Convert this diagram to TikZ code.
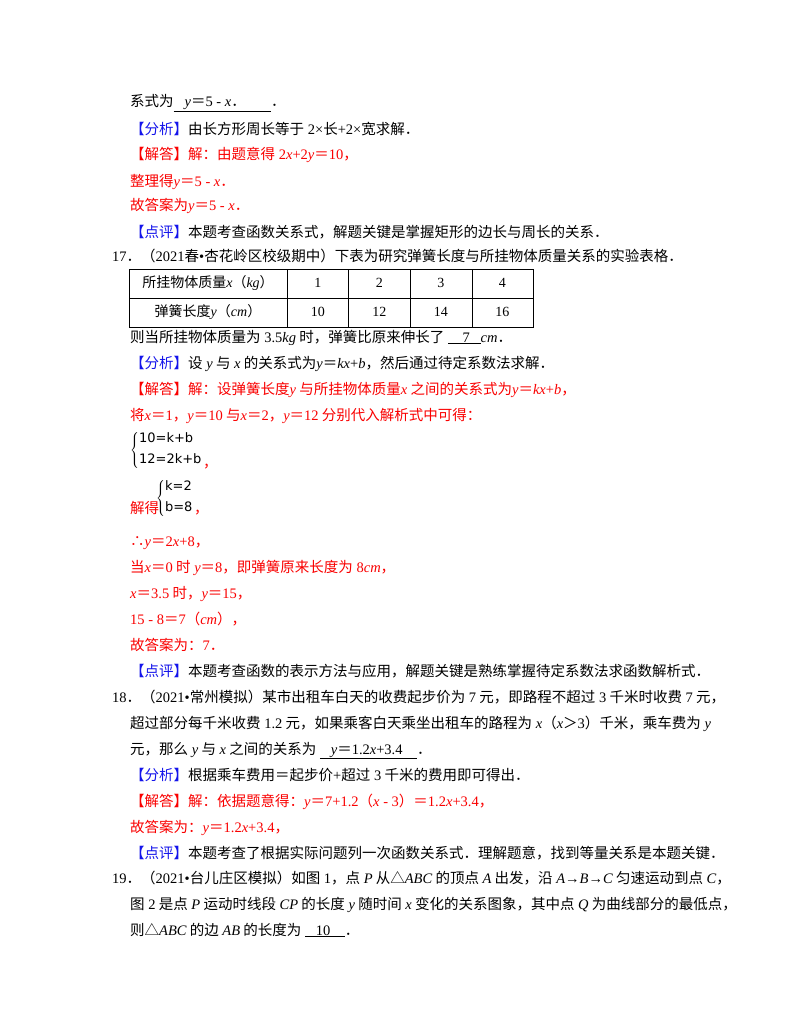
\documentclass[tikz,border=0pt]{standalone}
\usepackage{fontspec}
\setmainfont{Noto Sans CJK SC}
\newfontfamily\tm{Liberation Serif}
\newfontfamily\djvu{DejaVu Sans}
\newcommand\m[1]{{\tm #1}}
\newcommand\vi[1]{{\tm\itshape #1}}
\newcommand\ul[1]{\underline{\hbox{#1}}}
\newcommand\E{{\normalfont ＝}}
\newcommand\D{{\normalfont ．}}
\newcommand\G{{\normalfont ＞}}
\definecolor{tblue}{RGB}{20,20,235}
\definecolor{tred}{RGB}{250,0,0}
\newcommand\btag[1]{{\color{tblue}【#1】}}
\tikzset{txt/.style={anchor=base west,inner sep=0pt,font=\fontsize{14.5}{16}\selectfont},
 red/.style={txt,text=tred},
 cell/.style={inner sep=0pt,font=\fontsize{14}{16}\selectfont}}
\begin{document}
\begin{tikzpicture}[x=1pt,y=-1pt]
\useasboundingbox[fill=white] (0,0) rectangle (800,1035);
\node[txt] (a1) at (130,107) {系式为\ul{\m{\ \ \ }\vi{y}\E\m{5 - }\vi{x}\D\m{\ \ \ \ \ \ \ }}\D};
\node[txt] (a2) at (130,135) {\btag{分析}由长方形周长等于\m{ 2×}长\m{+2×}宽求解\D};
\node[red] (a3) at (130,160) {【解答】解：由题意得\m{ 2}\vi{x}\m{+2}\vi{y}\E\m{10}，};
\node[red] (a4) at (130,186) {整理得\vi{y}\E\m{5 - }\vi{x}\D};
\node[red] (a5) at (130,211) {故答案为\vi{y}\E\m{5 - }\vi{x}\D};
\node[txt] (a6) at (130,237) {\btag{点评}本题考查函数关系式，解题关键是掌握矩形的边长与周长的关系\D};
\node[txt] (q17) at (112,261) {\m{17}\D（\m{2021}春\m{•}杏花岭区校级期中）下表为研究弹簧长度与所挂物体质量关系的实验表格\D};
% table
\draw[line width=0.9pt] (129,269) rectangle (533,327);
\draw[line width=0.9pt] (129,298) -- (533,298);
\foreach \xx in {287,348,410,472} \draw[line width=0.9pt] (\xx,269) -- (\xx,327);
\node[cell] (t0) at (208,283) {所挂物体质量\vi{x}（\vi{kg}）};
\node[cell] (t1) at (208,312) {弹簧长度\vi{y}（\vi{cm}）};
\foreach \v/\a/\b in {1/1/10,2/2/12,3/3/14,4/4/16}{
 \node[cell] (c\v) at ({287+(\v-0.5)*61.5},283) {\m{\a}};
 \node[cell] (d\v) at ({287+(\v-0.5)*61.5},312) {\m{\b}};}
\node[txt] (b1) at (130,342) {则当所挂物体质量为\m{ 3.5}\vi{kg} 时，弹簧比原来伸长了\m{ }\ul{\m{\ \ \ \ 7\ \ \ }}\vi{cm}\D};
\node[txt] (b2) at (130,368) {\btag{分析}设\vi{ y} 与\vi{ x} 的关系式为\vi{y}\E\vi{kx}\m{+}\vi{b}，然后通过待定系数法求解\D};
\node[red] (b3) at (130,394) {【解答】解：设弹簧长度\vi{y} 与所挂物体质量\vi{x} 之间的关系式为\vi{y}\E\vi{kx}\m{+}\vi{b}，};
\node[red] (b4) at (130,420) {将\vi{x}\E\m{1}，\vi{y}\E\m{10} 与\vi{x}\E\m{2}，\vi{y}\E\m{12} 分别代入解析式中可得：};
\node[anchor=west,inner sep=0pt,font=\djvu\fontsize{13}{16}\selectfont] (s1) at (130,450)
 {$\left\{\vcenter{\hbox{\begin{tabular}{@{}l@{}}10=k+b\\[5pt]12=2k+b\end{tabular}}}\right.$};
\node[red,anchor=base west] (s1c) at (s1.east |- 0,467) {，};
\node[anchor=west,inner sep=0pt,font=\djvu\fontsize{13}{16}\selectfont] (s2) at (156,498)
 {$\left\{\vcenter{\hbox{\begin{tabular}{@{}l@{}}k=2\\[5pt]b=8\end{tabular}}}\right.$};
\node[red,anchor=base west] (s2c) at (s2.east |- 0,513) {，};
\node[red] (b5) at (130,513) {解得};
\node[red] (b6) at (130,546) {∴\vi{y}\E\m{2}\vi{x}\m{+8}，};
\node[red] (b7) at (130,572) {当\vi{x}\E\m{0} 时\vi{ y}\E\m{8}，即弹簧原来长度为\m{ 8}\vi{cm}，};
\node[red] (b8) at (130,598) {\vi{x}\E\m{3.5} 时，\vi{y}\E\m{15}，};
\node[red] (b9) at (130,624) {\m{15 - 8}\E\m{7}（\vi{cm}），};
\node[red] (b10) at (130,650) {故答案为：\m{7}\D};
\node[txt] (b11) at (130,676) {\btag{点评}本题考查函数的表示方法与应用，解题关键是熟练掌握待定系数法求函数解析式\D};
\node[txt] (q18) at (112,702) {\m{18}\D（\m{2021•}常州模拟）某市出租车白天的收费起步价为\m{ 7} 元，即路程不超过\m{ 3} 千米时收费\m{ 7} 元，};
\node[txt] (c1) at (130,728) {超过部分每千米收费\m{ 1.2} 元，如果乘客白天乘坐出租车的路程为\vi{ x}（\vi{x}\G\m{3}）千米，乘车费为\vi{ y}};
\node[txt] (c2) at (130,754) {元，那么\vi{ y} 与\vi{ x} 之间的关系为\m{ }\ul{\m{\ \ \ }\vi{y}\E\m{1.2}\vi{x}\m{+3.4\ \ \ \ }}\D};
\node[txt] (c3) at (130,780) {\btag{分析}根据乘车费用＝起步价\m{+}超过\m{ 3} 千米的费用即可得出\D};
\node[red] (c4) at (130,806) {【解答】解：依据题意得：\vi{y}\E\m{7+1.2}（\vi{x}\m{ - 3}）\E\m{1.2}\vi{x}\m{+3.4}，};
\node[red] (c5) at (130,832) {故答案为：\vi{y}\E\m{1.2}\vi{x}\m{+3.4}，};
\node[txt] (c6) at (130,858) {\btag{点评}本题考查了根据实际问题列一次函数关系式．理解题意，找到等量关系是本题关键\D};
\node[txt] (q19) at (112,883) {\m{19}\D（\m{2021•}台儿庄区模拟）如图\m{ 1}，点\vi{ P} 从△\vi{ABC} 的顶点\vi{ A} 出发，沿\vi{ A}\m{→}\vi{B}\m{→}\vi{C} 匀速运动到点\vi{ C}，};
\node[txt] (d1) at (130,909) {图\m{ 2} 是点\vi{ P} 运动时线段\vi{ CP} 的长度\vi{ y} 随时间\vi{ x} 变化的关系图象，其中点\vi{ Q} 为曲线部分的最低点，};
\node[txt] (d2) at (130,935) {则△\vi{ABC} 的边\vi{ AB} 的长度为\m{ }\ul{\m{\ \ \ 10\ \ \ \ }}\D};
\end{tikzpicture}
\end{document}
